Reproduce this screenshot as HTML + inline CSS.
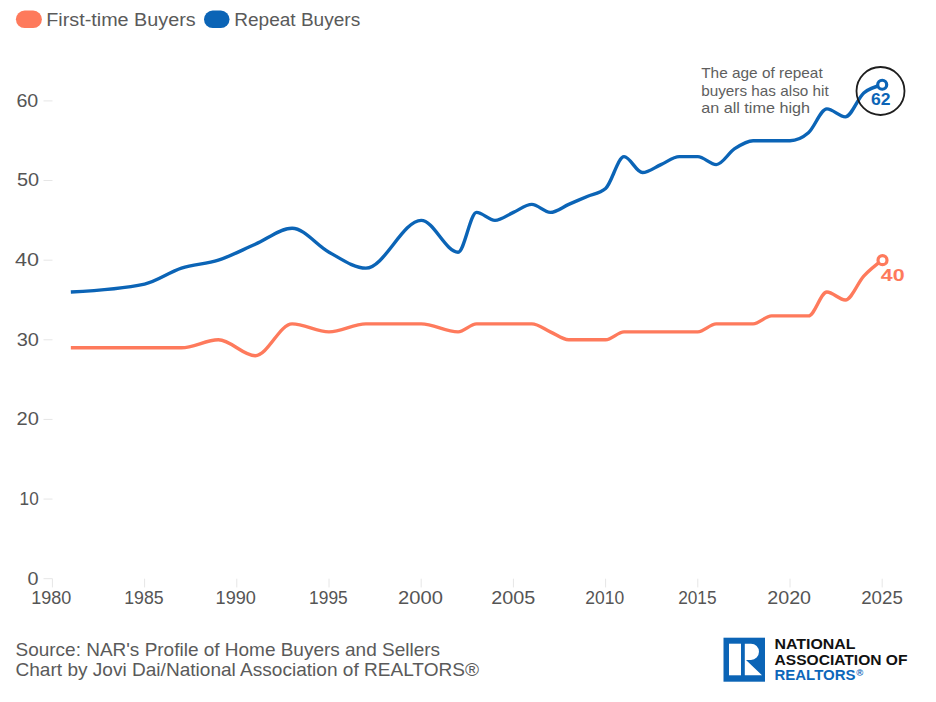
<!DOCTYPE html>
<html><head><meta charset="utf-8">
<style>
html,body{margin:0;padding:0;background:#fff;}
body{width:936px;height:702px;overflow:hidden;position:relative;font-family:"Liberation Sans",sans-serif;}
svg{position:absolute;left:0;top:0;}
.ax{font-family:"Liberation Sans",sans-serif;font-size:17.5px;fill:#555555;}
.lg{font-family:"Liberation Sans",sans-serif;font-size:18.3px;fill:#5a5a5a;}
.an{font-family:"Liberation Sans",sans-serif;font-size:14.3px;fill:#5e5e5e;}
.ft{font-family:"Liberation Sans",sans-serif;font-size:18.2px;fill:#5a5a5a;}
.lb{font-family:"Liberation Sans",sans-serif;font-size:16px;font-weight:bold;}
.logo{font-family:"Liberation Sans",sans-serif;font-size:14px;font-weight:bold;}
</style></head><body>
<svg width="936" height="702" viewBox="0 0 936 702">
<rect x="15.9" y="10.6" width="26" height="17.4" rx="8.7" fill="#fe7a5c"/>
<text x="46.2" y="25.6" class="lg" textLength="149.5" lengthAdjust="spacingAndGlyphs">First-time Buyers</text>
<rect x="204" y="10.6" width="25.5" height="17.4" rx="8.7" fill="#0b64b6"/>
<text x="234.2" y="25.6" class="lg" textLength="126" lengthAdjust="spacingAndGlyphs">Repeat Buyers</text>
<line x1="43.5" y1="578.70" x2="52.5" y2="578.70" stroke="#e6e6e6" stroke-width="1"/>
<text x="27.63" y="584.50" class="ax" textLength="10.99" lengthAdjust="spacingAndGlyphs">0</text>
<line x1="43.5" y1="499.07" x2="52.5" y2="499.07" stroke="#e6e6e6" stroke-width="1"/>
<text x="19.58" y="504.87" class="ax" textLength="19.10" lengthAdjust="spacingAndGlyphs">10</text>
<line x1="43.5" y1="419.43" x2="52.5" y2="419.43" stroke="#e6e6e6" stroke-width="1"/>
<text x="16.56" y="425.23" class="ax" textLength="22.36" lengthAdjust="spacingAndGlyphs">20</text>
<line x1="43.5" y1="339.80" x2="52.5" y2="339.80" stroke="#e6e6e6" stroke-width="1"/>
<text x="16.68" y="345.60" class="ax" textLength="22.23" lengthAdjust="spacingAndGlyphs">30</text>
<line x1="43.5" y1="260.17" x2="52.5" y2="260.17" stroke="#e6e6e6" stroke-width="1"/>
<text x="15.02" y="265.97" class="ax" textLength="23.99" lengthAdjust="spacingAndGlyphs">40</text>
<line x1="43.5" y1="180.53" x2="52.5" y2="180.53" stroke="#e6e6e6" stroke-width="1"/>
<text x="16.94" y="186.33" class="ax" textLength="22.14" lengthAdjust="spacingAndGlyphs">50</text>
<line x1="43.5" y1="100.90" x2="52.5" y2="100.90" stroke="#e6e6e6" stroke-width="1"/>
<text x="16.46" y="106.70" class="ax" textLength="21.84" lengthAdjust="spacingAndGlyphs">60</text>

<line x1="52.40" y1="578.70" x2="52.40" y2="587.40" stroke="#e6e6e6" stroke-width="1"/>
<text x="31.23" y="603.6" class="ax" textLength="40.07" lengthAdjust="spacingAndGlyphs">1980</text>
<line x1="144.60" y1="578.70" x2="144.60" y2="587.40" stroke="#e6e6e6" stroke-width="1"/>
<text x="124.19" y="603.6" class="ax" textLength="39.40" lengthAdjust="spacingAndGlyphs">1985</text>
<line x1="236.80" y1="578.70" x2="236.80" y2="587.40" stroke="#e6e6e6" stroke-width="1"/>
<text x="215.63" y="603.6" class="ax" textLength="40.29" lengthAdjust="spacingAndGlyphs">1990</text>
<line x1="329.00" y1="578.70" x2="329.00" y2="587.40" stroke="#e6e6e6" stroke-width="1"/>
<text x="309.12" y="603.6" class="ax" textLength="38.56" lengthAdjust="spacingAndGlyphs">1995</text>
<line x1="421.20" y1="578.70" x2="421.20" y2="587.40" stroke="#e6e6e6" stroke-width="1"/>
<text x="398.09" y="603.6" class="ax" textLength="44.83" lengthAdjust="spacingAndGlyphs">2000</text>
<line x1="513.40" y1="578.70" x2="513.40" y2="587.40" stroke="#e6e6e6" stroke-width="1"/>
<text x="491.17" y="603.6" class="ax" textLength="44.03" lengthAdjust="spacingAndGlyphs">2005</text>
<line x1="605.60" y1="578.70" x2="605.60" y2="587.40" stroke="#e6e6e6" stroke-width="1"/>
<text x="585.34" y="603.6" class="ax" textLength="38.91" lengthAdjust="spacingAndGlyphs">2010</text>
<line x1="697.80" y1="578.70" x2="697.80" y2="587.40" stroke="#e6e6e6" stroke-width="1"/>
<text x="678.17" y="603.6" class="ax" textLength="38.39" lengthAdjust="spacingAndGlyphs">2015</text>
<line x1="790.00" y1="578.70" x2="790.00" y2="587.40" stroke="#e6e6e6" stroke-width="1"/>
<text x="767.28" y="603.6" class="ax" textLength="43.81" lengthAdjust="spacingAndGlyphs">2020</text>
<line x1="882.20" y1="578.70" x2="882.20" y2="587.40" stroke="#e6e6e6" stroke-width="1"/>
<text x="861.17" y="603.6" class="ax" textLength="41.64" lengthAdjust="spacingAndGlyphs">2025</text>

<path d="M70.84,347.76C95.43,347.76,120.01,347.76,144.60,347.76C156.89,347.76,169.19,347.76,181.48,347.76C193.77,347.76,206.07,339.80,218.36,339.80C230.65,339.80,242.95,355.73,255.24,355.73C267.53,355.73,279.83,323.87,292.12,323.87C304.41,323.87,316.71,331.84,329.00,331.84C341.29,331.84,353.59,323.87,365.88,323.87C384.32,323.87,402.76,323.87,421.20,323.87C433.49,323.87,445.79,331.84,458.08,331.84C464.23,331.84,470.37,323.87,476.52,323.87C482.67,323.87,488.81,323.87,494.96,323.87C501.11,323.87,507.25,323.87,513.40,323.87C519.55,323.87,525.69,323.87,531.84,323.87C537.99,323.87,544.13,329.18,550.28,331.84C556.43,334.49,562.57,339.80,568.72,339.80C574.87,339.80,581.01,339.80,587.16,339.80C593.31,339.80,599.45,339.80,605.60,339.80C611.75,339.80,617.89,331.84,624.04,331.84C630.19,331.84,636.33,331.84,642.48,331.84C648.63,331.84,654.77,331.84,660.92,331.84C667.07,331.84,673.21,331.84,679.36,331.84C685.51,331.84,691.65,331.84,697.80,331.84C703.95,331.84,710.09,323.87,716.24,323.87C722.39,323.87,728.53,323.87,734.68,323.87C740.83,323.87,746.97,323.87,753.12,323.87C759.27,323.87,765.41,315.91,771.56,315.91C777.71,315.91,783.85,315.91,790.00,315.91C796.15,315.91,802.29,315.91,808.44,315.91C814.59,315.91,820.73,292.02,826.88,292.02C833.03,292.02,839.17,299.98,845.32,299.98C851.47,299.98,857.61,282.73,863.76,276.09C869.91,269.46,876.05,264.81,882.20,260.17" fill="none" stroke="#fe7a5c" stroke-width="3.4" stroke-linejoin="round"/>
<path d="M70.84,292.02C95.43,290.69,120.01,289.37,144.60,284.06C156.89,281.40,169.19,272.11,181.48,268.13C193.77,264.15,206.07,264.15,218.36,260.17C230.65,256.18,242.95,249.55,255.24,244.24C267.53,238.93,279.83,228.31,292.12,228.31C304.41,228.31,316.71,245.57,329.00,252.20C341.29,258.84,353.59,268.13,365.88,268.13C384.32,268.13,402.76,220.35,421.20,220.35C433.49,220.35,445.79,252.20,458.08,252.20C464.23,252.20,470.37,212.39,476.52,212.39C482.67,212.39,488.81,220.35,494.96,220.35C501.11,220.35,507.25,215.04,513.40,212.39C519.55,209.73,525.69,204.42,531.84,204.42C537.99,204.42,544.13,212.39,550.28,212.39C556.43,212.39,562.57,207.08,568.72,204.42C574.87,201.77,581.01,199.11,587.16,196.46C593.31,193.81,599.45,193.81,605.60,188.50C611.75,183.19,617.89,156.64,624.04,156.64C630.19,156.64,636.33,172.57,642.48,172.57C648.63,172.57,654.77,167.26,660.92,164.61C667.07,161.95,673.21,156.64,679.36,156.64C685.51,156.64,691.65,156.64,697.80,156.64C703.95,156.64,710.09,164.61,716.24,164.61C722.39,164.61,728.53,152.66,734.68,148.68C740.83,144.70,746.97,140.72,753.12,140.72C759.27,140.72,765.41,140.72,771.56,140.72C777.71,140.72,783.85,140.72,790.00,140.72C796.15,140.72,802.29,138.06,808.44,132.75C814.59,127.44,820.73,108.86,826.88,108.86C833.03,108.86,839.17,116.83,845.32,116.83C851.47,116.83,857.61,98.25,863.76,92.94C869.91,87.63,876.05,86.30,882.20,84.97" fill="none" stroke="#0b64b6" stroke-width="3.4" stroke-linejoin="round"/>
<circle cx="882.50" cy="260.17" r="4.5" fill="#fff" stroke="#fe7a5c" stroke-width="3.2"/>
<circle cx="882.20" cy="84.77" r="4.5" fill="#fff" stroke="#0b64b6" stroke-width="3.2"/>
<text x="880.8" y="281" class="lb" fill="#fe7a5c" textLength="23.8" lengthAdjust="spacingAndGlyphs">40</text>
<text x="871" y="104.5" class="lb" fill="#0b64b6" textLength="19.5" lengthAdjust="spacingAndGlyphs">62</text>
<circle cx="880.5" cy="91" r="24" fill="none" stroke="#1e1e1e" stroke-width="1.8"/>
<text x="701.2" y="78" class="an" textLength="121.5" lengthAdjust="spacingAndGlyphs">The age of repeat</text>
<text x="701.2" y="95.9" class="an" textLength="127.5" lengthAdjust="spacingAndGlyphs">buyers has also hit</text>
<text x="701.2" y="113.1" class="an" textLength="108.8" lengthAdjust="spacingAndGlyphs">an all time high</text>
<text x="15.5" y="655.8" class="ft" textLength="424.5" lengthAdjust="spacingAndGlyphs">Source: NAR's Profile of Home Buyers and Sellers</text>
<text x="15.5" y="676.3" class="ft" textLength="463.5" lengthAdjust="spacingAndGlyphs">Chart by Jovi Dai/National Association of REALTORS®</text>
<rect x="723.5" y="637.7" width="41.5" height="44" fill="#0b64b6"/>
<rect x="729" y="643.7" width="12" height="31.6" fill="#fff"/>
<path d="M744.8,643.7 H751 A8,8.15 0 0 1 751,660 H746 L762,675.3 H744.8 Z" fill="#fff"/>
<text x="774.5" y="649" class="logo" fill="#111" textLength="81" lengthAdjust="spacingAndGlyphs">NATIONAL</text>
<text x="774.5" y="665.4" class="logo" fill="#111" textLength="133" lengthAdjust="spacingAndGlyphs">ASSOCIATION OF</text>
<text x="774.5" y="680.4" class="logo" fill="#0d67ba" textLength="81" lengthAdjust="spacingAndGlyphs">REALTORS</text><text x="856.3" y="676.3" font-family="Liberation Sans" font-weight="bold" font-size="9.5" fill="#0d67ba">®</text>
</svg>
</body></html>
